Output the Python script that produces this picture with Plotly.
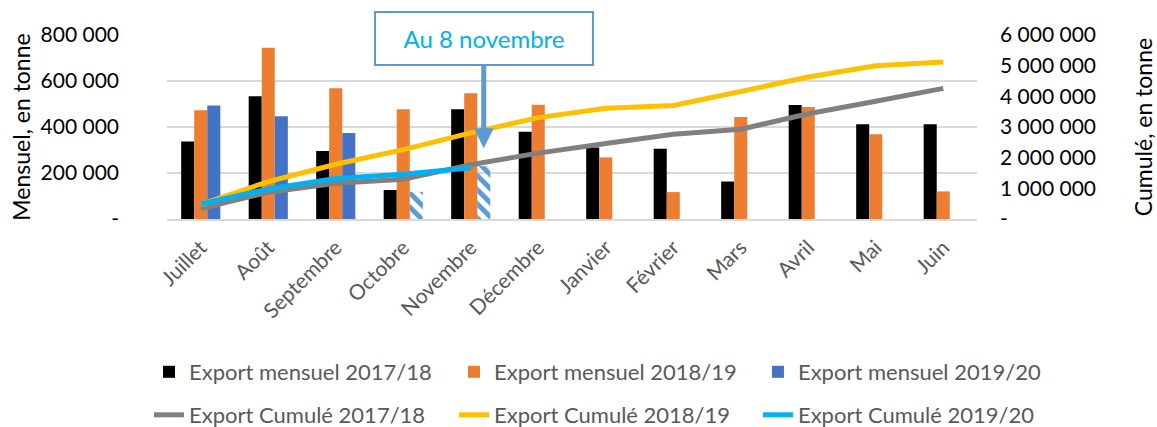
import plotly.graph_objects as go

months = ["Juillet", "Août", "Septembre", "Octobre", "Novembre", "Décembre",
          "Janvier", "Février", "Mars", "Avril", "Mai", "Juin"]

mensuel_1718 = [337000, 534000, 296000, 126000, 477000, 379000,
                311000, 305000, 163000, 496000, 412000, 412000]
mensuel_1819 = [473000, 745000, 568000, 477000, 547000, 497000,
                268000, 117000, 443000, 487000, 369000, 120000]
mensuel_1920 = [493000, 447000, 374000, 118000, 230000, None,
                None, None, None, None, None, None]

cumul_1718 = [337000, 871000, 1167000, 1293000, 1770000, 2149000,
              2460000, 2765000, 2928000, 3430000, 3840000, 4260000]
cumul_1819 = [473000, 1218000, 1786000, 2263000, 2810000, 3307000,
              3610000, 3700000, 4160000, 4630000, 4995000, 5120000]
cumul_1920 = [493000, 980000, 1320000, 1460000, 1670000]

left_ticks = [0, 200000, 400000, 600000, 800000]
left_labels = ["-", "200 000", "400 000", "600 000", "800 000"]
right_ticks = [0, 1000000, 2000000, 3000000, 4000000, 5000000, 6000000]
right_labels = ["-", "1 000 000", "2 000 000", "3 000 000",
                "4 000 000", "5 000 000", "6 000 000"]

FONT = "Lato"
GRAY_TXT = "#595959"

partial = [False, False, False, True, True] + [False] * 7
blue_colors = ["#5B9BD5" if p else "#4472C4" for p in partial]
blue_shapes = ["\\" if p else "" for p in partial]

fig = go.Figure()

fig.add_trace(go.Bar(x=months, y=mensuel_1718, name="Export mensuel 2017/18",
                     marker=dict(color="#000000", line=dict(width=0)),
                     legend="legend"))
fig.add_trace(go.Bar(x=months, y=mensuel_1819, name="Export mensuel 2018/19",
                     marker=dict(color="#ED7D31", line=dict(width=0)),
                     legend="legend2"))
fig.add_trace(go.Bar(x=months, y=mensuel_1920, name="Export mensuel 2019/20",
                     marker=dict(color=blue_colors, line=dict(width=0),
                                 pattern=dict(shape=blue_shapes, fillmode="replace",
                                              size=10, solidity=0.5)),
                     legend="legend3"))

fig.add_trace(go.Scatter(x=months, y=cumul_1718, name="Export Cumulé 2017/18",
                         mode="lines", line=dict(color="#808080", width=5),
                         yaxis="y2", legend="legend4"))
fig.add_trace(go.Scatter(x=months, y=cumul_1819, name="Export Cumulé 2018/19",
                         mode="lines", line=dict(color="#FFC000", width=5),
                         yaxis="y2", legend="legend5"))
fig.add_trace(go.Scatter(x=months[:len(cumul_1920)], y=cumul_1920,
                         name="Export Cumulé 2019/20",
                         mode="lines", line=dict(color="#00B0F0", width=5),
                         yaxis="y2", legend="legend6"))

fig.add_annotation(x="Novembre", y=308000, xref="x", yref="y", xshift=13,
                   ax=0, ay=-110, text="Au 8 novembre",
                   font=dict(family=FONT, size=24, color="#00B0F0"),
                   showarrow=True, arrowhead=2, arrowsize=0.8, arrowwidth=5,
                   arrowcolor="#5B9BD5", bordercolor="#5B9BD5", borderwidth=2,
                   borderpad=10, bgcolor="white", width=196, height=31)


def leg(x, y):
    return dict(orientation="h", font=dict(family=FONT, size=22, color=GRAY_TXT),
                bgcolor="rgba(0,0,0,0)", xanchor="left", yanchor="middle",
                xref="container", yref="container", x=x, y=y, borderwidth=0)


col_x = [0.1288, 0.3924, 0.6551]
row_y = [0.1288, 0.0281]

fig.update_layout(
    width=1157, height=427,
    margin=dict(l=167, r=180, t=35, b=208, autoexpand=False),
    paper_bgcolor="white", plot_bgcolor="white",
    font=dict(family=FONT, color="#000000"),
    barmode="group", bargap=0.42, bargroupgap=0,
    showlegend=True,
    legend=leg(col_x[0], row_y[0]),
    legend2=leg(col_x[1], row_y[0]),
    legend3=leg(col_x[2], row_y[0]),
    legend4=leg(col_x[0], row_y[1]),
    legend5=leg(col_x[1], row_y[1]),
    legend6=leg(col_x[2], row_y[1]),
    xaxis=dict(type="category", tickangle=-45, showgrid=False, automargin=False,
               showline=True, linecolor="#D9D9D9", linewidth=2,
               ticks="", tickfont=dict(family=FONT, size=21, color=GRAY_TXT),
               ticklabelstandoff=6),
    yaxis=dict(range=[0, 800000], tickvals=left_ticks, ticktext=left_labels,
               showgrid=True, gridcolor="#D9D9D9", gridwidth=1.5, zeroline=False,
               ticks="", ticklabelstandoff=47, automargin=False,
               tickfont=dict(family=FONT, size=21, color="#000000"),
               title=dict(text="Mensuel, en tonne", standoff=3,
                          font=dict(family=FONT, size=23, color="#000000"))),
    yaxis2=dict(range=[0, 6000000], tickvals=right_ticks, ticktext=right_labels,
                overlaying="y", side="right", showgrid=False, zeroline=False,
                ticks="", ticklabelstandoff=22, automargin=False,
                tickfont=dict(family=FONT, size=21, color="#000000"),
                title=dict(text="Cumulé, en tonne", standoff=42,
                           font=dict(family=FONT, size=23, color="#000000"))),
)

fig.write_html("out.html", config={"displayModeBar": False})

# remove the browser's default page margin so the figure sits at the window origin
with open("out.html", encoding="utf-8") as f:
    html = f.read()
html = html.replace("<head>", "<head><style>html,body{margin:0;padding:0;overflow:hidden;}</style>", 1)
with open("out.html", "w", encoding="utf-8") as f:
    f.write(html)
